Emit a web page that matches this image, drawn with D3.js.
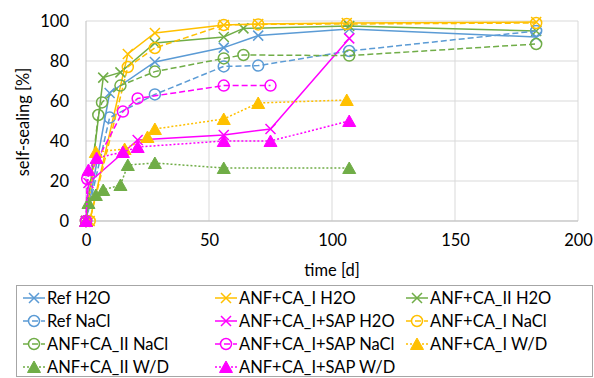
<!DOCTYPE html>
<html><head><meta charset="utf-8">
<script src="https://cdn.jsdelivr.net/npm/d3@7"></script>
<style>body{margin:0;background:#fff}svg{display:block}text{font-family:Lato,"Open Sans",sans-serif;fill:#000}</style>
</head><body>
<script>
// ---- data ----
const xTicks = [0, 50, 100, 150, 200];
const yTicks = [0, 20, 40, 60, 80, 100];
const seriesNames = ["Ref H2O","ANF+CA_I H2O","ANF+CA_II H2O","Ref NaCl","ANF+CA_I+SAP H2O","ANF+CA_I NaCl","ANF+CA_II NaCl","ANF+CA_I+SAP NaCl","ANF+CA_I W/D","ANF+CA_II W/D","ANF+CA_I+SAP W/D"];
const refH2O_t = [0, 9.6, 28, 56, 70, 107, 183];
const refH2O_v = [0, 64, 79.5, 86.7, 92.7, 96, 92];
const anfIH2O_t = [0, 1.5, 17, 28, 56, 70, 106, 183];
const anfIH2O_v = [0, 0, 83.5, 94, 98, 98.5, 99, 99.5];
const anfIIH2O_t = [0, 7, 14, 28, 56, 64, 107, 183];
const anfIIH2O_v = [0, 71.7, 74.3, 89, 92, 96.3, 97.5, 95];
const refNaCl_t = [0, 9.6, 28, 56, 70, 107, 183];
const refNaCl_v = [0, 51.7, 63.3, 77.3, 77.7, 85, 95];
const sapH2O_t = [0, 1, 21, 56, 75, 107];
const sapH2O_v = [0, 19, 40.5, 43, 46, 91.3];
const anfINaCl_t = [0, 1.5, 17, 28, 56, 70, 106, 183];
const anfINaCl_v = [0, 0, 77, 86.5, 98, 98.3, 98.5, 99];
const anfIINaCl_t = [0, 5, 6.5, 14, 28, 56, 64, 107, 183];
const anfIINaCl_v = [0, 53, 59.3, 67.7, 74.7, 81.3, 83, 82.7, 88.5];
const sapNaCl_t = [0, 0.5, 15, 21, 56, 75];
const sapNaCl_v = [0, 21, 54.7, 61.3, 67.7, 67.7];
const anfIWD_t = [0, 4, 15.7, 25, 28, 56, 70, 106];
const anfIWD_v = [0, 34.5, 36, 42, 46, 51, 59, 60.5];
const anfIIWD_t = [0, 1, 4, 7, 14, 17, 28, 56, 107];
const anfIIWD_v = [0, 9, 13, 15.5, 18, 28, 29, 26.5, 26.5];
const sapWD_t = [0, 1, 4.3, 15, 21, 56, 75, 107];
const sapWD_v = [0, 25.5, 31.5, 34.5, 37, 40, 40, 50];

const BLUE="#5b9bd5", ORANGE="#ffc000", GREEN="#70ad47", PINK="#ff00ff";
const series = [
  {t:refH2O_t, v:refH2O_v, c:BLUE, dash:null, m:"x"},
  {t:anfIH2O_t, v:anfIH2O_v, c:ORANGE, dash:null, m:"x"},
  {t:anfIIH2O_t, v:anfIIH2O_v, c:GREEN, dash:null, m:"x"},
  {t:refNaCl_t, v:refNaCl_v, c:BLUE, dash:"6,3", m:"o"},
  {t:sapH2O_t, v:sapH2O_v, c:PINK, dash:null, m:"x"},
  {t:anfINaCl_t, v:anfINaCl_v, c:ORANGE, dash:"6,3", m:"o"},
  {t:anfIINaCl_t, v:anfIINaCl_v, c:GREEN, dash:"6,3", m:"o"},
  {t:sapNaCl_t, v:sapNaCl_v, c:PINK, dash:"6,3", m:"o"},
  {t:anfIWD_t, v:anfIWD_v, c:ORANGE, dash:"2,2", m:"t"},
  {t:anfIIWD_t, v:anfIIWD_v, c:GREEN, dash:"2,2", m:"t"},
  {t:sapWD_t, v:sapWD_v, c:PINK, dash:"2,2", m:"t"}
].map((s,i)=>({...s, name:seriesNames[i]}));

const W=594, H=378;
const svg = d3.select("body").append("svg").attr("width",W).attr("height",H);
const x = d3.scaleLinear().domain([0,200]).range([86,578]);
const y = d3.scaleLinear().domain([0,100]).range([221,21]);

// grid
svg.append("g").selectAll("line").data(yTicks).join("line")
  .attr("x1",x(0)).attr("x2",x(200)).attr("y1",d=>y(d)).attr("y2",d=>y(d))
  .attr("stroke","#d9d9d9").attr("stroke-width",1);
svg.append("g").selectAll("line").data(xTicks.slice(1)).join("line")
  .attr("x1",d=>x(d)).attr("x2",d=>x(d)).attr("y1",y(0)).attr("y2",y(100))
  .attr("stroke","#d9d9d9").attr("stroke-width",1);
// axes lines
svg.append("line").attr("x1",x(0)).attr("x2",x(200)).attr("y1",y(0)).attr("y2",y(0)).attr("stroke","#bfbfbf");
svg.append("line").attr("x1",x(0)).attr("x2",x(0)).attr("y1",y(0)).attr("y2",y(100)).attr("stroke","#bfbfbf");

// tick labels via axes
const xa = svg.append("g").attr("transform",`translate(0,${y(0)})`)
  .call(d3.axisBottom(x).tickValues(xTicks).tickSize(0).tickPadding(13));
const ya = svg.append("g").attr("transform",`translate(${x(0)},0)`)
  .call(d3.axisLeft(y).tickValues(yTicks).tickSize(0).tickPadding(17));
[xa,ya].forEach(a=>{a.select(".domain").remove();a.selectAll("text").style("font-size","16.5px").attr("fill","#000");});

svg.append("text").attr("x",332).attr("y",276).attr("text-anchor","middle").style("font-size","16.5px").text("time [d]");
svg.append("text").attr("transform","translate(29,122) rotate(-90)").attr("text-anchor","middle").style("font-size","16.5px").text("self-sealing [%]");

function drawMarker(g, m, c, px, py){
  if(m==="x"){
    const s=5;
    g.append("path").attr("d",`M${px-s},${py-s}L${px+s},${py+s}M${px-s},${py+s}L${px+s},${py-s}`)
      .attr("stroke",c).attr("stroke-width",1.5).attr("fill","none");
  } else if(m==="o"){
    g.append("circle").attr("cx",px).attr("cy",py).attr("r",5.5).attr("fill","none").attr("stroke",c).attr("stroke-width",1.5);
  } else {
    g.append("path").attr("d",`M${px},${py-6}L${px+6.5},${py+5.5}L${px-6.5},${py+5.5}Z`).attr("fill",c).attr("stroke",c).attr("stroke-width",1);
  }
}

const line = d3.line().x(d=>x(d[0])).y(d=>y(d[1]));
series.forEach(s=>{
  const pts = s.t.map((t,i)=>[t,s.v[i]]);
  const g = svg.append("g");
  g.append("path").attr("d",line(pts)).attr("fill","none").attr("stroke",s.c).attr("stroke-width",1.5)
    .attr("stroke-dasharray",s.dash);
  pts.forEach(p=>drawMarker(g,s.m,s.c,x(p[0]),y(p[1])));
});

// legend
svg.append("rect").attr("x",16.5).attr("y",285.5).attr("width",576).attr("height",91).attr("fill","none").attr("stroke","#a6a6a6");
const colX=[23,215,406], rowY=[298,321,344,367];
series.forEach((s,i)=>{
  const cx=colX[i%3], cy=rowY[Math.floor(i/3)];
  const g=svg.append("g");
  g.append("line").attr("x1",cx).attr("x2",cx+22).attr("y1",cy).attr("y2",cy).attr("stroke",s.c).attr("stroke-width",1.5).attr("stroke-dasharray",s.dash);
  drawMarker(g,s.m,s.c,cx+11,cy);
  g.append("text").attr("x",cx+24).attr("y",cy+6).style("font-size","16.5px").text(s.name);
});
</script>
</body></html>
